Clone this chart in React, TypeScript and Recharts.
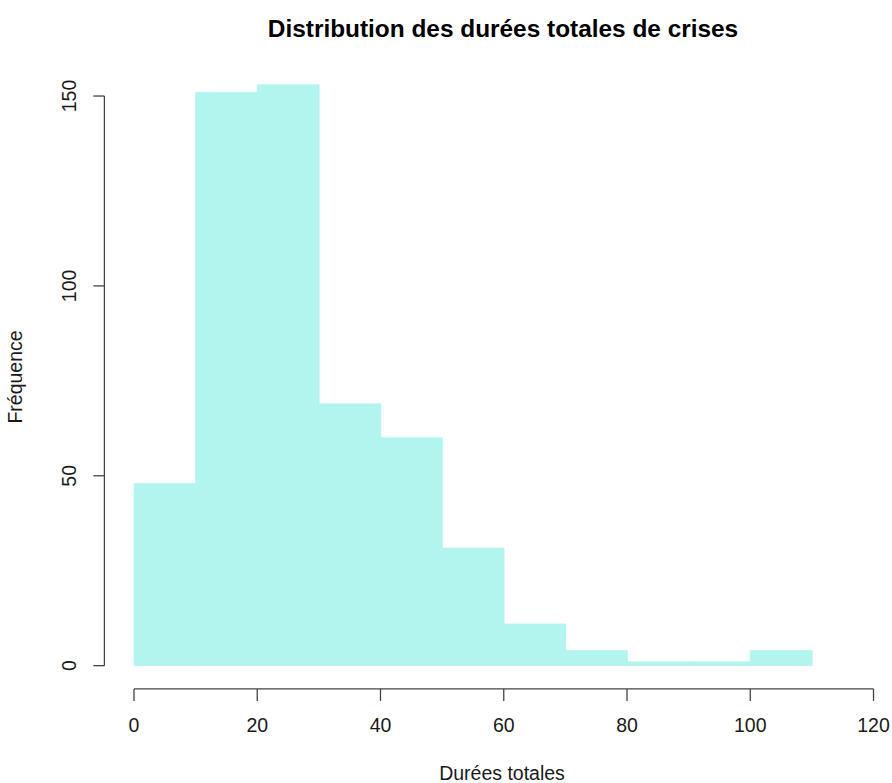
import { BarChart, Bar, XAxis, YAxis, ReferenceLine } from 'recharts';

// histogram bins (lower edges) and their counts
const binStarts = [0, 10, 20, 30, 40, 50, 60, 70, 80, 90, 100];
const counts = [48, 151, 153, 69, 60, 31, 11, 4, 1, 1, 4];
const binWidth = 10;

const xTicks = [0, 20, 40, 60, 80, 100, 120];
const yTicks = [0, 50, 100, 150];

const title = 'Distribution des durées totales de crises';
const xLabel = 'Durées totales';
const yLabel = 'Fréquence';

const data = binStarts.map((start, i) => ({ mid: start + binWidth / 2, count: counts[i] }));

// R-style plot region: 4% padding around the data range
const xDomain = [-4.8, 123];
const yDomain = [-6.12, 159.12];

const W = 892;
const H = 783;
const margin = { top: 61.4, right: 0, left: 44.4, bottom: 34.1 };

const FONT = '"Liberation Sans", Arial, sans-serif';
const AXIS = '#444';
const TEXT = '#1a1a1a';
const FILL = '#B2F5EE';

function YTick(props: any) {
  const { x, y, payload } = props;
  return (
    <text
      x={x}
      y={y}
      transform={`rotate(-90, ${x}, ${y})`}
      textAnchor="middle"
      fontSize={19.5}
      fontFamily={FONT}
      fill={TEXT}
    >
      {payload.value}
    </text>
  );
}

export default function App() {
  return (
    <div style={{ position: 'absolute', left: 0, top: 0, width: W, height: H, background: '#fff' }}>
      <BarChart
        width={W}
        height={H}
        data={data}
        margin={margin}
        barCategoryGap={0}
        barGap={0}
      >
        <XAxis
          dataKey="mid"
          type="number"
          domain={xDomain}
          allowDataOverflow
          ticks={xTicks}
          interval={0}
          axisLine={false}
          tickLine={{ stroke: AXIS, strokeWidth: 1.3 }}
          tickSize={12}
          tickMargin={17}
          height={60}
          tick={{ fontSize: 19.5, fontFamily: FONT, fill: TEXT }}
        />
        <YAxis
          type="number"
          domain={yDomain}
          allowDataOverflow
          ticks={yTicks}
          interval={0}
          axisLine={false}
          tickLine={{ stroke: AXIS, strokeWidth: 1.3 }}
          tickSize={11}
          tickMargin={17.4}
          width={60}
          tick={<YTick />}
        />
        <Bar
          dataKey="count"
          fill={FILL}
          stroke={FILL}
          strokeWidth={0.6}
          isAnimationActive={false}
        />
        <ReferenceLine
          segment={[{ x: 0, y: yDomain[0] }, { x: 120, y: yDomain[0] }]}
          stroke={AXIS}
          strokeWidth={1.3}
          ifOverflow="visible"
        />
        <ReferenceLine
          segment={[{ x: xDomain[0], y: 0 }, { x: xDomain[0], y: 150 }]}
          stroke={AXIS}
          strokeWidth={1.3}
          ifOverflow="visible"
        />
        <text
          x={503}
          y={37}
          textAnchor="middle"
          fontSize={24.4}
          fontWeight="bold"
          fontFamily={FONT}
          fill="#000"
        >
          {title}
        </text>
        <text x={502} y={780} textAnchor="middle" fontSize={19.5} fontFamily={FONT} fill={TEXT}>
          {xLabel}
        </text>
        <text
          x={22}
          y={377}
          transform="rotate(-90, 22, 377)"
          textAnchor="middle"
          fontSize={19.5}
          fontFamily={FONT}
          fill={TEXT}
        >
          {yLabel}
        </text>
      </BarChart>
    </div>
  );
}
